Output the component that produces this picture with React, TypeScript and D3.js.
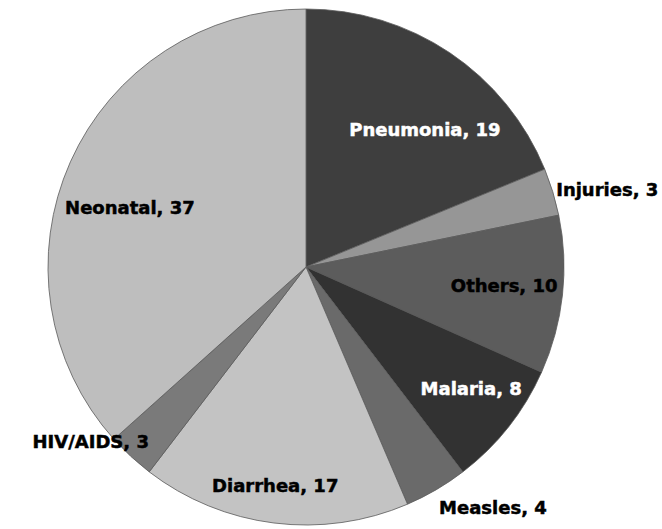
import { useEffect, useRef } from "react";
import * as d3 from "d3";

const causes = ["Pneumonia", "Injuries", "Others", "Malaria", "Measles", "Diarrhea", "HIV/AIDS", "Neonatal"];
const shares = [19, 3, 10, 8, 4, 17, 3, 37];
const sliceColors = ["#3e3e3e", "#969696", "#5c5c5c", "#323232", "#6a6a6a", "#c3c3c3", "#7a7a7a", "#bebebe"];
const labelColors = ["#fff", "#000", "#000", "#fff", "#000", "#000", "#000", "#000"];
// label placement: angle (deg, clockwise from top) and distance from centre
const labelAngles = [40.8, 75.6, 95.2, 126.3, 142.2, 188, 231, 288.8];
const labelRadii = [182, 311, 199, 205, 305, 221, 277, 186];

export default function App() {
  const svgRef = useRef<SVGSVGElement | null>(null);

  useEffect(() => {
    document.body.style.margin = "0";
    if (!svgRef.current) return;
    const width = 662;
    const height = 529;
    const cx = 306;
    const cy = 267;
    const radius = 258;

    const svg = d3.select(svgRef.current);
    svg.selectAll("*").remove();

    const data = causes.map((c, i) => ({ cause: c, value: shares[i], i }));
    const pie = d3.pie<(typeof data)[number]>().value((d) => d.value).sort(null);
    const arc = d3.arc<d3.PieArcDatum<(typeof data)[number]>>().innerRadius(0).outerRadius(radius);

    const g = svg.append("g").attr("transform", `translate(${cx},${cy})`);

    g.selectAll("path")
      .data(pie(data))
      .join("path")
      .attr("d", arc)
      .attr("fill", (d) => sliceColors[d.data.i])
      .attr("stroke", "#5a5a5a")
      .attr("stroke-width", 0.8);

    g.selectAll("text")
      .data(data)
      .join("text")
      .attr("transform", (d) => {
        const [x, y] = d3.pointRadial((labelAngles[d.i] * Math.PI) / 180, labelRadii[d.i]);
        return `translate(${x},${y})`;
      })
      .attr("text-anchor", "middle")
      .attr("dy", "0.36em")
      .attr("font-family", "DejaVu Sans, sans-serif")
      .attr("font-weight", "bold")
      .attr("font-size", 18)
      .attr("fill", (d) => labelColors[d.i])
      .attr("stroke", (d) => labelColors[d.i])
      .attr("stroke-width", 0.5)
      .text((d) => `${d.cause}, ${d.value}`);

    svg.attr("width", width).attr("height", height);
  }, []);

  return <svg ref={svgRef} width={662} height={529} style={{ display: "block" }}></svg>;
}
